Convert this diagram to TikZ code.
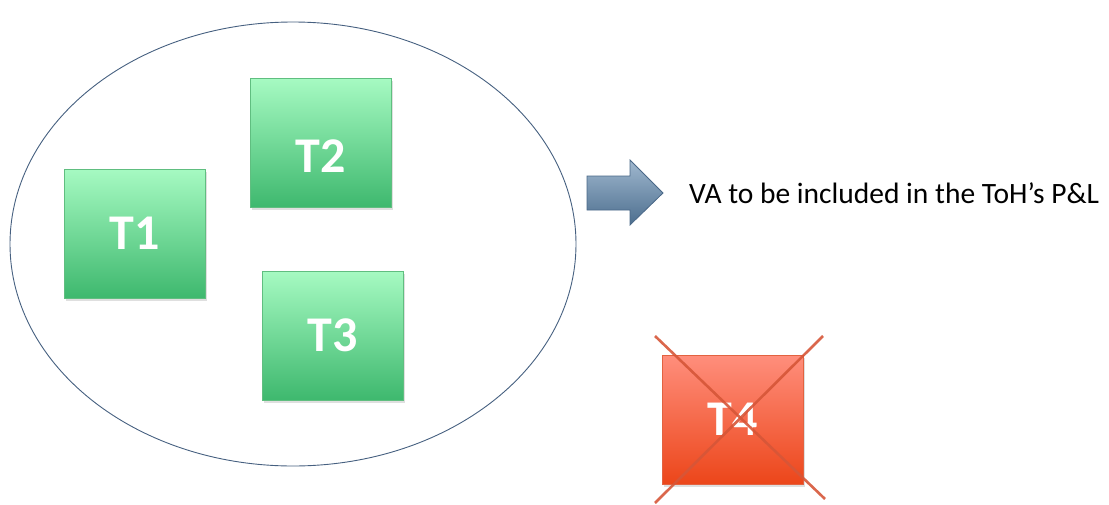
\documentclass[tikz,border=0pt]{standalone}
\usepackage{fontspec}
\setmainfont{Carlito}
\usetikzlibrary{shadows}

\tikzset{
  tbox/.style={draw={rgb,255:red,96;green,190;blue,128}, line width=0.8pt,
    top color={rgb,255:red,166;green,250;blue,194}, bottom color={rgb,255:red,62;green,184;blue,110},
    minimum width=141pt, minimum height=129pt, inner sep=0pt,
    text=white, font=\fontsize{50}{50}\selectfont\bfseries,
    drop shadow={opacity=0.25, shadow xshift=1.5pt, shadow yshift=-2.5pt}},
  xbox/.style={tbox, draw={rgb,255:red,226;green,98;blue,64},
    top color={rgb,255:red,255;green,142;blue,124}, bottom color={rgb,255:red,236;green,70;blue,26}},
  crossline/.style={draw={rgb,255:red,214;green,86;blue,56}, line width=2.6pt, opacity=0.9}
}

\begin{document}
\begin{tikzpicture}[x=1pt,y=1pt,yscale=-1,xscale=1]
\useasboundingbox (0,0) rectangle (1109,504);

%Shape: Ellipse
\draw [color={rgb, 255:red, 70; green, 96; blue, 128 }, line width=0.9pt] (293,244) ellipse [x radius=283, y radius=222];

% Task boxes
\node [tbox] (t1) at (134.5,233.5) {T1};
\node [tbox] (t2) at (320.5,143) {\raisebox{-29pt}[0pt][0pt]{T2}};
\node [tbox] (t3) at (332.5,335.5) {T3};

%Shape: Right Arrow
\shade [top color={rgb, 255:red, 160; green, 184; blue, 207 }, bottom color={rgb, 255:red, 76; green, 110; blue, 142 }, draw={rgb, 255:red, 74; green, 104; blue, 136 }, line width=0.8pt]
  (587,176) -- (630,176) -- (630,160) -- (663,193) -- (630,225) -- (630,210) -- (587,210) -- cycle ;

% Text Node
\node [anchor=west, inner sep=0pt, font=\fontsize{29.5}{30}\selectfont] (va) at (689,193) {VA to be included in the ToH’s P\&L};

% Excluded task
\node [xbox] (t4) at (732.5,419.5) {T4};
\coordinate (xa) at (655,336);
\coordinate (xb) at (825,499);
\coordinate (xc) at (823,336);
\coordinate (xd) at (655,503);
\draw [crossline] (xa) -- (xb);
\draw [crossline] (xc) -- (xd);

\end{tikzpicture}
\end{document}
